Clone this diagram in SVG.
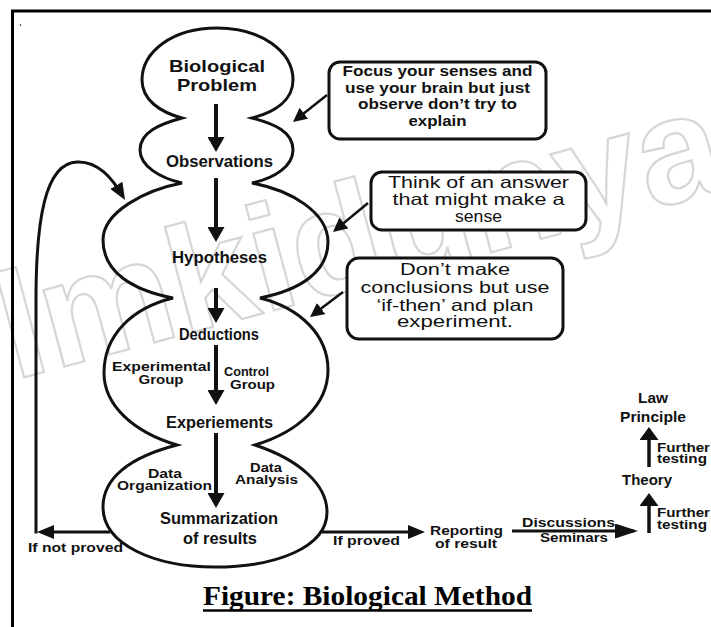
<svg xmlns="http://www.w3.org/2000/svg" width="711" height="627" viewBox="0 0 711 627">
<style>
.m{font-family:"Liberation Sans",Arial,sans-serif;font-weight:bold;font-size:17px;text-anchor:middle;fill:#111}
.s{font-family:"Liberation Sans",Arial,sans-serif;font-weight:bold;font-size:12px;text-anchor:middle;fill:#111}
.t{font-family:"Liberation Sans",Arial,sans-serif;font-weight:bold;font-size:15.5px;text-anchor:middle;fill:#111}
.b1{font-family:"Liberation Sans",Arial,sans-serif;font-weight:bold;font-size:14px;text-anchor:middle;fill:#111}
.r{font-family:"Liberation Sans",Arial,sans-serif;font-size:16.5px;text-anchor:middle;fill:#111}
.cap{font-family:"Liberation Serif","Times New Roman",serif;font-weight:bold;font-size:28px;text-anchor:middle;fill:#000}
.ln{fill:none;stroke:#111;stroke-linecap:butt}
.box{fill:#fff;stroke:#111;stroke-width:3}
.wm{font-family:"Liberation Sans",Arial,sans-serif;font-weight:bold;font-size:150px;fill:none;stroke:#d6d6d6;stroke-width:2.2}
</style>
<defs>
<marker id="mBig" markerUnits="userSpaceOnUse" viewBox="0 0 15 17" markerWidth="15" markerHeight="17" refX="10" refY="8.5" orient="auto"><path d="M0,0 L15,8.5 L0,17 Z" fill="#111"/></marker>
<marker id="mSmall" markerUnits="userSpaceOnUse" viewBox="0 0 14 14" markerWidth="14" markerHeight="14" refX="10" refY="7" orient="auto"><path d="M0,0 L14,7 L0,14 Z" fill="#111"/></marker>
<marker id="mMid" markerUnits="userSpaceOnUse" viewBox="0 0 17 14" markerWidth="17" markerHeight="14" refX="13" refY="7" orient="auto"><path d="M0,0 L17,7 L0,14 Z" fill="#111"/></marker>
<marker id="mWide" markerUnits="userSpaceOnUse" viewBox="0 0 23 15" markerWidth="23" markerHeight="15" refX="19" refY="7.5" orient="auto"><path d="M0,0 L23,7.5 L0,15 Z" fill="#111"/></marker>
<marker id="mUp" markerUnits="userSpaceOnUse" viewBox="0 0 13 19" markerWidth="13" markerHeight="19" refX="9" refY="9.5" orient="auto"><path d="M0,0 L13,9.5 L0,19 Z" fill="#111"/></marker>
</defs>
<rect width="711" height="627" fill="#fff"/>
<text class="wm" x="14" y="380" transform="rotate(-15 14 380)">lmkidunya</text>
<path d="M12.5 627 V11 H711" fill="none" stroke="#000" stroke-width="3"/>
<path d="M20 24 l1 2" stroke="#333" stroke-width="1"/>
<g id="flow-shape">
<path class="ln" stroke-width="3" d="M217 28 C262 28,293 52,293 80 C293 100,275 112,252 118 C275 124,293 132,293 150 C293 166,275 178,252 183 C290 190,328 212,328 242 C328 272,300 290,260 298 C300 308,328 335,328 370 C328 405,298 432,255 445 C300 460,327 485,327 512 C327 548,275 567,215 567 C155 567,103 545,103 507 C103 478,130 457,177 445 C133 432,104 405,104 373 C104 335,132 308,173 298 C132 290,103 272,103 240 C103 212,145 190,182 183 C160 178,140 166,140 150 C140 132,160 124,182 118 C160 112,142 100,142 80 C142 52,172 28,217 28 Z"/>
</g>
<g id="node-problem"><text class="m" x="217" y="72" textLength="96" lengthAdjust="spacingAndGlyphs">Biological</text><text class="m" x="217" y="91" textLength="80" lengthAdjust="spacingAndGlyphs">Problem</text></g>
<g id="node-observations"><text class="m" x="219.5" y="167" textLength="107" lengthAdjust="spacingAndGlyphs">Observations</text></g>
<g id="node-hypotheses"><text class="m" x="219.5" y="263" textLength="95" lengthAdjust="spacingAndGlyphs">Hypotheses</text></g>
<g id="node-deductions"><text class="m" x="219" y="340" textLength="80" lengthAdjust="spacingAndGlyphs">Deductions</text></g>
<g id="node-experiments"><text class="m" x="219.5" y="428" textLength="107" lengthAdjust="spacingAndGlyphs">Experiements</text></g>
<g id="node-summary"><text class="m" x="219" y="524" textLength="118" lengthAdjust="spacingAndGlyphs">Summarization</text><text class="m" x="220" y="544" textLength="74" lengthAdjust="spacingAndGlyphs">of results</text></g>
<g id="labels-inner">
<text class="s" x="161.5" y="371" textLength="99" lengthAdjust="spacingAndGlyphs">Experimental</text>
<text class="s" x="161" y="384" textLength="45" lengthAdjust="spacingAndGlyphs">Group</text>
<text class="s" x="246.5" y="376" textLength="45" lengthAdjust="spacingAndGlyphs">Control</text>
<text class="s" x="252.5" y="389" textLength="45" lengthAdjust="spacingAndGlyphs">Group</text>
<text class="s" x="165" y="478" textLength="34" lengthAdjust="spacingAndGlyphs">Data</text>
<text class="s" x="164.5" y="490" textLength="95" lengthAdjust="spacingAndGlyphs">Organization</text>
<text class="s" x="266" y="472" textLength="32" lengthAdjust="spacingAndGlyphs">Data</text>
<text class="s" x="266.5" y="484" textLength="63" lengthAdjust="spacingAndGlyphs">Analysis</text>
</g>
<g id="note-observe">
<rect class="box" x="329" y="62" width="217" height="77" rx="11"/>
<text class="b1" x="437.5" y="76" textLength="190" lengthAdjust="spacingAndGlyphs">Focus your senses and</text>
<text class="b1" x="437.5" y="92.5" textLength="185" lengthAdjust="spacingAndGlyphs">use your brain but just</text>
<text class="b1" x="437.5" y="109" textLength="159" lengthAdjust="spacingAndGlyphs">observe don’t try to</text>
<text class="b1" x="437.5" y="125.5" textLength="58" lengthAdjust="spacingAndGlyphs">explain</text>
</g>
<g id="note-hypothesis">
<rect class="box" x="371" y="172" width="215" height="58" rx="11"/>
<text class="r" x="478.5" y="188" textLength="181" lengthAdjust="spacingAndGlyphs">Think of an answer</text>
<text class="r" x="478.5" y="205" textLength="172" lengthAdjust="spacingAndGlyphs">that might make a</text>
<text class="r" x="478.5" y="222" textLength="47" lengthAdjust="spacingAndGlyphs">sense</text>
</g>
<g id="note-deduction">
<rect class="box" x="347" y="258" width="216" height="81" rx="12"/>
<text class="r" x="455" y="275" textLength="110" lengthAdjust="spacingAndGlyphs">Don’t make</text>
<text class="r" x="455" y="293" textLength="189" lengthAdjust="spacingAndGlyphs">conclusions but use</text>
<text class="r" x="455" y="311" textLength="157" lengthAdjust="spacingAndGlyphs">‘if-then’ and plan</text>
<text class="r" x="455" y="327" textLength="116" lengthAdjust="spacingAndGlyphs">experiment.</text>
</g>
<g id="node-reporting"><text class="s" x="466.5" y="535" textLength="73" lengthAdjust="spacingAndGlyphs">Reporting</text><text class="s" x="466" y="548" textLength="62" lengthAdjust="spacingAndGlyphs">of result</text></g>
<g id="node-theory"><text class="t" x="647" y="485" textLength="50" lengthAdjust="spacingAndGlyphs">Theory</text></g>
<g id="node-law"><text class="t" x="653" y="403" textLength="30" lengthAdjust="spacingAndGlyphs">Law</text><text class="t" x="653" y="422" textLength="66" lengthAdjust="spacingAndGlyphs">Principle</text></g>
<g id="connectors">
<line class="ln" stroke-width="4" x1="216" y1="104" x2="216" y2="147" marker-end="url(#mBig)"/>
<line class="ln" stroke-width="4" x1="216" y1="178" x2="216" y2="237" marker-end="url(#mBig)"/>
<line class="ln" stroke-width="4" x1="216" y1="288" x2="216" y2="318" marker-end="url(#mBig)"/>
<line class="ln" stroke-width="4" x1="216" y1="345" x2="216" y2="400" marker-end="url(#mBig)"/>
<line class="ln" stroke-width="4" x1="216" y1="433" x2="216" y2="503" marker-end="url(#mBig)"/>
<line class="ln" stroke-width="2.5" x1="327" y1="95" x2="296.1" y2="119.5" marker-end="url(#mSmall)"/>
<line class="ln" stroke-width="2.5" x1="368" y1="203" x2="336.1" y2="229.4" marker-end="url(#mSmall)"/>
<line class="ln" stroke-width="2.5" x1="343" y1="292" x2="313.2" y2="314.6" marker-end="url(#mSmall)"/>
<line class="ln" stroke-width="3" x1="110" y1="532" x2="41" y2="532" marker-end="url(#mMid)"/>
<path class="ln" stroke-width="3" d="M36 533.5 V300 C36 220,45 163,77 162 C98 161,112 178,123 196.5" marker-end="url(#mMid)"/>
<line class="ln" stroke-width="3" x1="322" y1="532" x2="421" y2="532" marker-end="url(#mMid)"/>
<line class="ln" stroke-width="3" x1="512" y1="531" x2="634" y2="531" marker-end="url(#mWide)"/>
<line class="ln" stroke-width="3.5" x1="649" y1="533" x2="649" y2="497" marker-end="url(#mUp)"/>
<line class="ln" stroke-width="3.5" x1="649" y1="467" x2="649" y2="431" marker-end="url(#mUp)"/>
</g>
<g id="edge-labels">
<text class="s" x="75.5" y="552" textLength="95" lengthAdjust="spacingAndGlyphs">If not proved</text>
<text class="s" x="366.5" y="545" textLength="67" lengthAdjust="spacingAndGlyphs">If proved</text>
<text class="s" x="568.5" y="527" textLength="93" lengthAdjust="spacingAndGlyphs">Discussions</text>
<text class="s" x="574" y="542" textLength="68" lengthAdjust="spacingAndGlyphs">Seminars</text>
<text class="s" x="683.5" y="452" textLength="53" lengthAdjust="spacingAndGlyphs">Further</text>
<text class="s" x="682" y="463" textLength="50" lengthAdjust="spacingAndGlyphs">testing</text>
<text class="s" x="683.5" y="517" textLength="53" lengthAdjust="spacingAndGlyphs">Further</text>
<text class="s" x="682" y="529" textLength="50" lengthAdjust="spacingAndGlyphs">testing</text>
</g>
<g id="caption">
<text class="cap" x="367.5" y="605" textLength="329" lengthAdjust="spacingAndGlyphs">Figure: Biological Method</text>
<line x1="203" y1="610.5" x2="532" y2="610.5" stroke="#000" stroke-width="2.5"/>
</g>
</svg>
